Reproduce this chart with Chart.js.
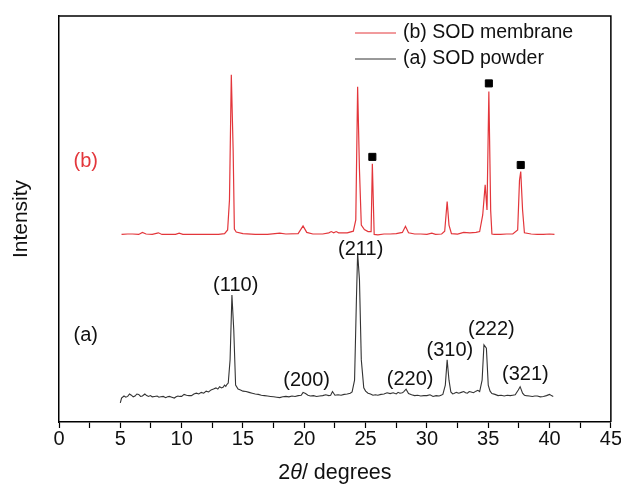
<!DOCTYPE html>
<html>
<head>
<meta charset="utf-8">
<title>XRD patterns</title>
<script src="https://cdn.jsdelivr.net/npm/chart.js@4"></script>
<style>
  body { margin: 0; background: #fff; }
  #wrap { width: 621px; height: 485px; }
</style>
</head>
<body>
<div id="wrap"><canvas id="xrdChart" width="621" height="485"></canvas></div>
<script>
// (a) SOD powder
var anglesA = [5.0, 5.1, 5.3, 5.45, 5.6, 5.75, 5.9, 6.05, 6.2, 6.35, 6.5, 6.65, 6.8, 7.0, 7.15, 7.3, 7.45, 7.6, 7.8, 8.0, 8.15, 8.3, 8.5, 8.7, 8.85, 9.0, 9.2, 9.4, 9.55, 9.7, 9.85, 10.0, 10.2, 10.4, 10.6, 10.8, 11.0, 11.2, 11.4, 11.6, 11.8, 12.0, 12.2, 12.4, 12.6, 12.8, 12.95, 13.1, 13.25, 13.4, 13.5, 13.6, 13.7, 13.8, 13.95, 14.1, 14.25, 14.4, 14.6, 14.8, 15.0, 15.25, 15.5, 15.75, 16.0, 16.25, 16.5, 16.75, 17.0, 17.25, 17.5, 17.75, 18.0, 18.25, 18.5, 18.75, 19.0, 19.25, 19.5, 19.75, 19.9, 20.1, 20.3, 20.5, 20.75, 21.0, 21.25, 21.5, 21.75, 22.0, 22.15, 22.3, 22.5, 22.75, 23.0, 23.25, 23.5, 23.75, 23.9, 24.1, 24.25, 24.35, 24.5, 24.65, 24.85, 25.0, 25.2, 25.4, 25.6, 25.8, 26.0, 26.25, 26.5, 26.75, 27.0, 27.25, 27.5, 27.65, 27.8, 28.0, 28.1, 28.3, 28.5, 28.75, 29.0, 29.25, 29.5, 29.75, 30.0, 30.25, 30.5, 30.75, 31.0, 31.15, 31.3, 31.5, 31.65, 31.8, 31.95, 32.1, 32.2, 32.4, 32.6, 32.8, 33.0, 33.15, 33.3, 33.45, 33.6, 33.8, 34.0, 34.15, 34.3, 34.5, 34.65, 34.85, 35.0, 35.15, 35.3, 35.55, 35.8, 36.05, 36.3, 36.55, 36.8, 37.0, 37.2, 37.45, 37.6, 37.8, 37.95, 38.1, 38.35, 38.6, 38.8, 39.0, 39.25, 39.5, 39.75, 40.0, 40.15, 40.3];
var intensityA = [4.7, 5.9, 6.4, 6.1, 6.3, 6.9, 6.6, 6.2, 6.4, 6.9, 6.8, 6.3, 6.4, 6.9, 6.5, 6.3, 6.5, 6.2, 6.3, 6.4, 6.1, 6.2, 6.3, 6.0, 6.2, 6.3, 6.1, 5.9, 6.2, 6.4, 6.3, 6.3, 6.8, 6.6, 6.5, 6.5, 6.9, 7.1, 6.9, 7.3, 7.1, 7.6, 7.4, 7.9, 8.1, 8.4, 8.1, 8.7, 8.4, 8.6, 9.1, 8.8, 9.3, 9.6, 15.3, 31.3, 22.7, 9.1, 8.1, 7.9, 7.6, 7.5, 7.3, 7.1, 6.9, 6.8, 6.6, 6.5, 6.4, 6.3, 6.2, 6.1, 6.0, 6.2, 6.3, 6.2, 6.4, 6.3, 6.5, 6.6, 7.3, 7.0, 6.6, 6.4, 6.5, 6.3, 6.4, 6.5, 6.7, 6.5, 6.6, 7.5, 6.6, 6.7, 6.6, 6.8, 6.9, 7.1, 7.4, 10.3, 30.0, 41.6, 35.0, 15.3, 8.4, 7.6, 7.1, 6.9, 6.6, 6.7, 6.6, 6.8, 6.9, 7.2, 7.0, 7.2, 6.9, 7.3, 7.1, 7.2, 7.4, 8.1, 7.0, 6.7, 6.5, 6.6, 6.4, 6.5, 6.5, 6.7, 6.3, 6.5, 6.4, 6.6, 6.8, 9.1, 15.3, 10.3, 7.4, 6.9, 7.0, 7.3, 7.1, 7.3, 7.5, 7.2, 7.1, 7.5, 7.4, 7.2, 7.6, 7.8, 7.5, 10.3, 19.0, 18.2, 9.1, 7.6, 7.0, 6.8, 6.5, 6.6, 6.4, 6.6, 6.5, 6.6, 6.7, 7.9, 8.7, 7.1, 6.6, 6.5, 6.4, 6.3, 6.4, 6.4, 6.2, 6.3, 6.5, 6.8, 6.5, 6.3];

// (b) SOD membrane
var anglesB = [5.1, 5.6, 6.0, 6.5, 6.8, 7.1, 7.6, 8.1, 8.4, 9.0, 9.5, 9.8, 10.1, 11.0, 12.0, 13.0, 13.5, 13.75, 13.9, 14.05, 14.2, 14.3, 14.45, 15.0, 16.0, 17.0, 18.0, 18.5, 19.5, 19.9, 20.2, 20.7, 21.5, 22.0, 22.2, 22.4, 22.6, 22.8, 23.5, 24.0, 24.2, 24.35, 24.5, 24.65, 24.9, 25.2, 25.45, 25.55, 25.7, 26.0, 26.5, 27.0, 27.5, 28.0, 28.25, 28.5, 29.0, 29.5, 30.0, 30.4, 30.7, 31.2, 31.45, 31.65, 31.8, 32.0, 32.5, 33.0, 33.5, 34.0, 34.3, 34.55, 34.75, 34.9, 35.05, 35.2, 35.3, 35.5, 36.0, 36.5, 37.0, 37.4, 37.55, 37.65, 37.8, 37.95, 38.5, 39.0, 39.5, 40.0, 40.4];
var intensityB = [46.2, 46.3, 46.3, 46.2, 46.7, 46.3, 46.2, 46.6, 46.2, 46.2, 46.2, 46.5, 46.2, 46.2, 46.2, 46.2, 46.4, 47.3, 54.7, 85.5, 67.0, 47.5, 46.8, 46.4, 46.2, 46.2, 46.5, 46.3, 46.4, 48.3, 46.7, 46.3, 46.3, 46.6, 46.9, 46.6, 46.9, 46.6, 46.6, 47.0, 49.8, 82.6, 62.1, 48.5, 47.4, 46.9, 46.9, 63.6, 46.2, 46.1, 46.3, 46.3, 46.4, 46.7, 48.2, 46.6, 46.3, 46.3, 46.2, 46.5, 46.2, 46.3, 47.0, 54.3, 48.5, 46.4, 46.3, 46.7, 46.6, 46.7, 46.9, 51.0, 58.4, 52.2, 81.4, 52.0, 46.3, 46.2, 46.2, 46.3, 46.3, 47.3, 59.6, 61.7, 52.2, 46.6, 46.3, 46.2, 46.2, 46.3, 46.2];

// square markers over the membrane peaks
var markerAngles = [25.55, 35.05, 37.65];
var markerIntensity = [65.3, 83.4, 63.3];

// hkl labels of the powder pattern
var hklLabels = ['(110)', '(200)', '(211)', '(220)', '(310)', '(222)', '(321)'];
var hklAngles = [14.41, 20.19, 24.6, 28.63, 31.87, 35.26, 38.03];
var hklIntensity = [33.7, 10.3, 42.4, 10.5, 17.7, 22.7, 11.6];

var seriesNames = ['(b) SOD membrane', '(a) SOD powder'];
var FONT = "'Liberation Sans', Arial, sans-serif";
var RED = '#e3363b';
var DARK = '#333333';

function toPoints(xs, ys) {
    return xs.map(function (x, i) { return { x: x, y: ys[i] }; });
}

var textPlugin = {
    id: 'textPlugin',
    afterDraw: function (chart) {
        var ctx = chart.ctx;
        var xs = chart.scales.x;
        var ys = chart.scales.y;
        var area = chart.chartArea;
        ctx.save();

        // frame top + right
        ctx.strokeStyle = '#000';
        ctx.lineWidth = 1.5;
        ctx.beginPath();
        ctx.moveTo(area.left, area.top);
        ctx.lineTo(area.right, area.top);
        ctx.lineTo(area.right, area.bottom);
        ctx.stroke();

        // peak labels
        ctx.font = '20px ' + FONT;
        ctx.fillStyle = '#111';
        ctx.textAlign = 'center';
        ctx.textBaseline = 'middle';
        hklLabels.forEach(function (t, i) {
            ctx.fillText(t, xs.getPixelForValue(hklAngles[i]), ys.getPixelForValue(hklIntensity[i]));
        });

        // curve tags
        ctx.fillStyle = RED;
        ctx.fillText('(b)', xs.getPixelForValue(2.18), ys.getPixelForValue(64.2));
        ctx.fillStyle = '#111';
        ctx.fillText('(a)', xs.getPixelForValue(2.18), ys.getPixelForValue(21.2));

        // legend
        var colors = [RED, DARK];
        ctx.textAlign = 'left';
        ctx.font = '19.5px ' + FONT;
        seriesNames.forEach(function (name, i) {
            var y = area.top + 17 + i * 26;
            ctx.strokeStyle = colors[i];
            ctx.lineWidth = 1;
            ctx.beginPath();
            ctx.moveTo(area.left + 296, y);
            ctx.lineTo(area.left + 337, y);
            ctx.stroke();
            ctx.fillStyle = '#111';
            ctx.fillText(name, area.left + 344, y);
        });

        // x title with italic theta
        var cx = (area.left + area.right) / 2;
        var ty = 473;
        var p1 = '2', p3 = '/ degrees';
        ctx.font = 'italic 21.5px ' + FONT;
        var w2 = ctx.measureText('\u03b8').width;
        ctx.font = '21.5px ' + FONT;
        var w1 = ctx.measureText(p1).width, w3 = ctx.measureText(p3).width;
        var x0 = cx - (w1 + w2 + w3) / 2;
        ctx.fillStyle = '#111';
        ctx.fillText(p1, x0, ty);
        ctx.font = 'italic 21.5px ' + FONT;
        ctx.fillText('\u03b8', x0 + w1, ty);
        ctx.font = '21.5px ' + FONT;
        ctx.fillText(p3, x0 + w1 + w2, ty);
        ctx.restore();
    }
};

var ctxXrd = document.getElementById('xrdChart').getContext('2d');
var xrdChart = new Chart(ctxXrd, {
    type: 'line',
    data: {
        datasets: [{
            label: seriesNames[0],
            data: toPoints(anglesB, intensityB),
            borderColor: RED,
            borderWidth: 1.2,
            pointRadius: 0,
            tension: 0
        }, {
            label: seriesNames[1],
            data: toPoints(anglesA, intensityA),
            borderColor: DARK,
            borderWidth: 1.1,
            pointRadius: 0,
            tension: 0
        }, {
            label: 'markers',
            type: 'scatter',
            data: toPoints(markerAngles, markerIntensity),
            pointStyle: 'rect',
            pointRadius: 5,
            backgroundColor: '#000',
            borderColor: '#000',
            showLine: false
        }]
    },
    plugins: [textPlugin],
    options: {
        responsive: false,
        animation: false,
        layout: { padding: { top: 16, right: 9, left: 0, bottom: 0 } },
        plugins: {
            legend: { display: false },
            tooltip: { enabled: false }
        },
        scales: {
            x: {
                type: 'linear',
                min: 0,
                max: 45,
                afterFit: function (s) { s.height = 63; },
                ticks: {
                    stepSize: 2.5,
                    autoSkip: false,
                    maxRotation: 0,
                    padding: -1,
                    color: '#111',
                    font: { size: 20, family: FONT },
                    callback: function (v) { return v % 5 === 0 ? v : ''; }
                },
                grid: {
                    drawOnChartArea: false,
                    drawTicks: true,
                    tickLength: 6,
                    tickColor: '#000',
                    tickWidth: 1.2
                },
                border: { color: '#000', width: 1.5 }
            },
            y: {
                min: 0,
                max: 100,
                afterFit: function (s) { s.width = 59; },
                ticks: { display: false },
                grid: { display: false },
                border: { display: true, color: '#000', width: 1.5 },
                title: {
                    display: true,
                    text: 'Intensity',
                    color: '#111',
                    font: { size: 21, family: FONT },
                    padding: { top: 9, bottom: 0 }
                }
            }
        }
    }
});
</script>
</body>
</html>
